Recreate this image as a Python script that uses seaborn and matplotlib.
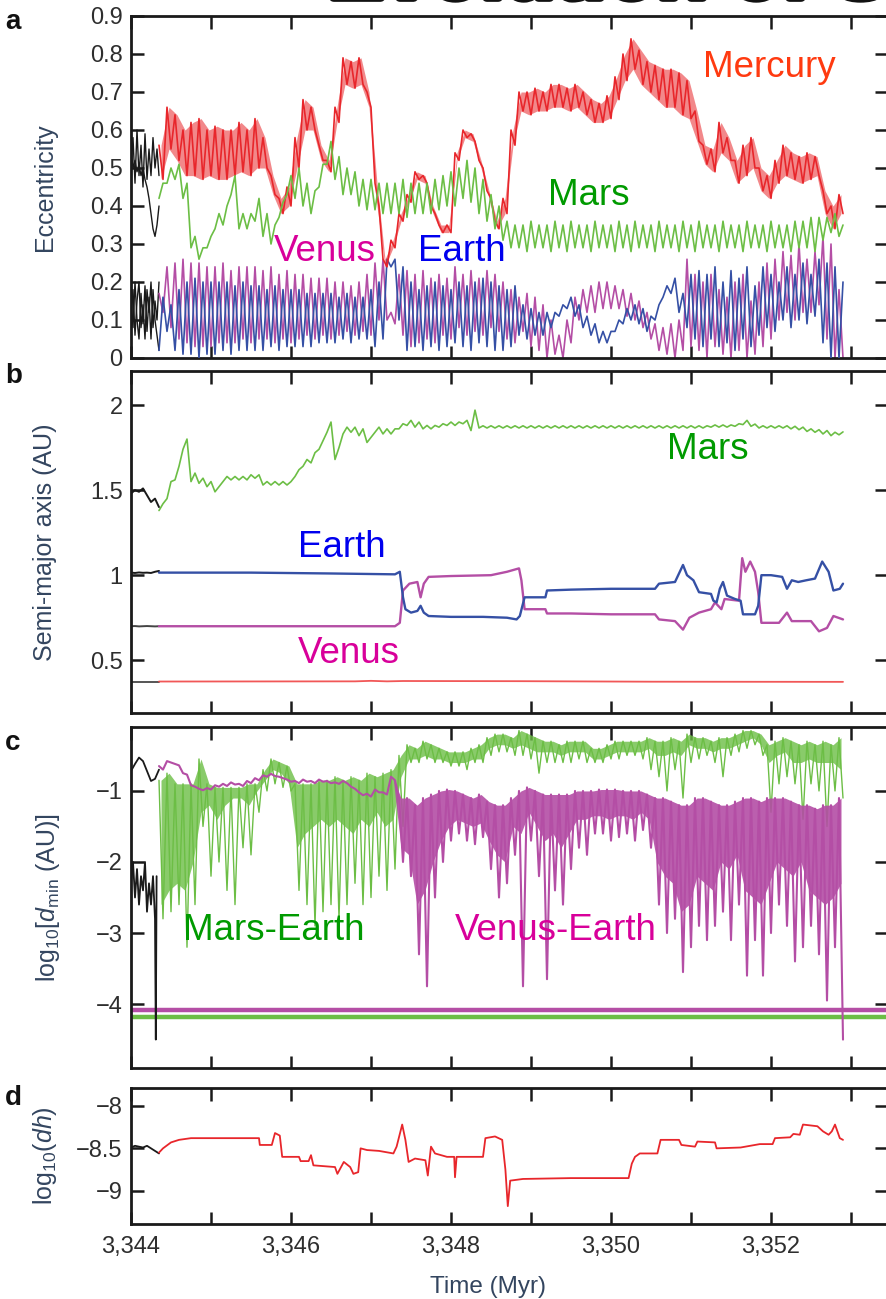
import numpy as np
import matplotlib
matplotlib.use("Agg")
import matplotlib.pyplot as plt
import matplotlib.patheffects as pe
from matplotlib.ticker import FixedLocator, FuncFormatter
import seaborn as sns

# ---------------- DATA ----------------
# common sampling grid of the coloured part: 3344.35 ... 3352.85, step 0.1 Myr
T0, DT, N = 3344.35, 0.1, 86

# panel a: eccentricity envelopes (low / high value in each 0.1 Myr bin)
mercury_e_lo = [0.47,0.55,0.52,0.48,0.48,0.47,0.48,0.47,0.47,0.48,
                0.49,0.48,0.50,0.50,0.43,0.38,0.40,0.50,0.60,0.60,
                0.52,0.49,0.62,0.72,0.71,0.72,0.66,0.40,0.24,0.29,
                0.36,0.41,0.47,0.46,0.38,0.33,0.33,0.52,0.58,0.57,
                0.50,0.42,0.34,0.38,0.56,0.65,0.64,0.65,0.65,0.66,
                0.66,0.65,0.66,0.64,0.62,0.62,0.63,0.68,0.73,0.76,
                0.72,0.70,0.68,0.66,0.66,0.64,0.63,0.57,0.51,0.49,
                0.54,0.52,0.46,0.48,0.50,0.44,0.42,0.46,0.48,0.47,
                0.46,0.47,0.48,0.38,0.34,0.38]
mercury_e_hi = [0.56,0.66,0.64,0.60,0.62,0.63,0.60,0.61,0.60,0.60,
                0.62,0.60,0.63,0.58,0.48,0.42,0.45,0.58,0.68,0.66,
                0.56,0.52,0.66,0.79,0.78,0.79,0.70,0.46,0.26,0.31,
                0.38,0.43,0.49,0.48,0.40,0.35,0.35,0.54,0.60,0.59,
                0.52,0.44,0.36,0.42,0.60,0.70,0.70,0.71,0.70,0.72,
                0.72,0.71,0.72,0.70,0.68,0.67,0.69,0.74,0.80,0.84,
                0.81,0.78,0.77,0.76,0.76,0.75,0.73,0.65,0.56,0.55,
                0.62,0.58,0.52,0.56,0.58,0.50,0.48,0.52,0.56,0.54,
                0.53,0.54,0.53,0.44,0.40,0.43]
mars_e_lo = [0.42,0.46,0.47,0.42,0.29,0.26,0.29,0.34,0.35,0.43,
             0.34,0.34,0.36,0.32,0.30,0.37,0.43,0.42,0.40,0.38,
             0.45,0.51,0.47,0.43,0.43,0.40,0.39,0.39,0.38,0.38,
             0.38,0.37,0.38,0.38,0.38,0.39,0.40,0.40,0.42,0.41,
             0.38,0.36,0.34,0.31,0.29,0.29,0.28,0.29,0.29,0.28,
             0.29,0.28,0.29,0.29,0.28,0.29,0.29,0.28,0.29,0.28,
             0.29,0.29,0.28,0.29,0.29,0.28,0.29,0.28,0.29,0.29,
             0.28,0.29,0.29,0.28,0.29,0.29,0.28,0.29,0.29,0.28,
             0.29,0.29,0.28,0.31,0.33,0.32]
mars_e_hi = [0.46,0.50,0.51,0.46,0.32,0.29,0.32,0.38,0.40,0.48,
             0.38,0.38,0.42,0.38,0.35,0.41,0.48,0.50,0.46,0.44,
             0.51,0.57,0.53,0.50,0.49,0.47,0.47,0.46,0.46,0.46,
             0.47,0.46,0.46,0.46,0.47,0.48,0.49,0.50,0.52,0.50,
             0.47,0.43,0.40,0.36,0.35,0.35,0.36,0.35,0.35,0.36,
             0.35,0.36,0.35,0.35,0.36,0.35,0.35,0.36,0.35,0.36,
             0.35,0.35,0.36,0.35,0.35,0.36,0.35,0.36,0.35,0.35,
             0.36,0.35,0.35,0.36,0.35,0.35,0.36,0.35,0.35,0.36,
             0.36,0.37,0.37,0.37,0.38,0.35]
venus_e_lo = [0.12,0.08,0.05,0.04,0.03,0.03,0.03,0.04,0.04,0.04,
              0.05,0.04,0.05,0.05,0.04,0.05,0.04,0.05,0.06,0.05,
              0.06,0.05,0.06,0.07,0.06,0.07,0.06,0.10,0.10,0.09,
              0.06,0.03,0.04,0.05,0.04,0.06,0.05,0.08,0.06,0.07,
              0.06,0.08,0.07,0.05,0.04,0.07,0.03,0.02,0.00,0.01,
              0.00,0.04,0.10,0.12,0.12,0.13,0.13,0.13,0.11,0.10,
              0.08,0.05,0.02,0.01,0.00,0.02,0.03,0.02,0.00,0.03,
              0.01,0.00,0.02,0.00,0.01,0.03,0.05,0.10,0.12,0.10,
              0.12,0.12,0.14,0.05,0.00,0.00]
venus_e_hi = [0.17,0.24,0.25,0.26,0.25,0.25,0.24,0.24,0.25,0.23,
              0.24,0.24,0.24,0.23,0.24,0.22,0.23,0.22,0.22,0.21,
              0.21,0.21,0.20,0.20,0.19,0.20,0.22,0.25,0.26,0.12,
              0.22,0.23,0.22,0.23,0.21,0.22,0.21,0.24,0.22,0.23,
              0.21,0.23,0.22,0.20,0.18,0.16,0.17,0.16,0.14,0.10,
              0.06,0.10,0.16,0.18,0.19,0.20,0.20,0.19,0.18,0.17,
              0.15,0.12,0.09,0.08,0.09,0.10,0.26,0.22,0.20,0.22,
              0.18,0.16,0.20,0.22,0.15,0.20,0.25,0.26,0.28,0.27,
              0.30,0.26,0.28,0.32,0.30,0.18]
earth_e_lo = [0.02,0.07,0.02,0.01,0.01,0.00,0.01,0.01,0.02,0.01,
              0.02,0.02,0.02,0.02,0.03,0.02,0.03,0.03,0.03,0.03,
              0.04,0.04,0.04,0.05,0.04,0.05,0.05,0.03,0.05,0.24,
              0.10,0.02,0.03,0.02,0.03,0.02,0.03,0.04,0.03,0.02,
              0.04,0.03,0.02,0.02,0.03,0.06,0.05,0.06,0.06,0.08,
              0.11,0.13,0.11,0.08,0.06,0.04,0.04,0.07,0.09,0.10,
              0.09,0.07,0.10,0.16,0.17,0.12,0.08,0.05,0.03,0.05,
              0.03,0.04,0.02,0.05,0.03,0.06,0.08,0.07,0.10,0.08,
              0.10,0.09,0.11,0.04,0.00,0.00]
earth_e_hi = [0.16,0.14,0.18,0.20,0.21,0.20,0.20,0.20,0.20,0.19,
              0.20,0.19,0.19,0.18,0.19,0.18,0.18,0.18,0.17,0.17,
              0.17,0.17,0.16,0.17,0.16,0.16,0.18,0.20,0.26,0.26,
              0.24,0.20,0.18,0.19,0.20,0.19,0.18,0.20,0.19,0.20,
              0.21,0.20,0.19,0.18,0.19,0.14,0.13,0.12,0.12,0.12,
              0.14,0.16,0.14,0.11,0.09,0.07,0.07,0.10,0.13,0.14,
              0.13,0.11,0.14,0.19,0.21,0.17,0.22,0.23,0.22,0.24,
              0.20,0.23,0.21,0.24,0.19,0.24,0.22,0.20,0.24,0.22,
              0.25,0.22,0.26,0.25,0.24,0.20]
# black early part of panel a (3344.00 - 3344.35, step 0.025)
black_mercury_e = [0.50,0.58,0.46,0.60,0.48,0.56,0.45,0.59,0.47,0.55,0.48,0.58,0.50,0.55,0.48]
black_mars_e = [0.55,0.50,0.52,0.49,0.51,0.48,0.50,0.47,0.45,0.42,0.38,0.34,0.32,0.35,0.40]
black_venus_e = [0.10,0.18,0.06,0.15,0.20,0.08,0.14,0.05,0.18,0.12,0.20,0.08,0.15,0.10,0.20]
black_earth_e = [0.15,0.08,0.20,0.10,0.05,0.17,0.09,0.19,0.07,0.16,0.05,0.18,0.10,0.06,0.02]

# panel b: semi-major axis
mars_a_lo = [1.38,1.45,1.56,1.74,1.55,1.54,1.52,1.49,1.55,1.56,
             1.56,1.56,1.57,1.53,1.53,1.53,1.53,1.58,1.64,1.66,
             1.74,1.84,1.68,1.83,1.84,1.82,1.78,1.84,1.83,1.83,
             1.86,1.88,1.87,1.86,1.86,1.87,1.88,1.88,1.89,1.85,
             1.865,1.865,1.865,1.865,1.865,1.865,1.865,1.865,1.865,1.865,
             1.865,1.865,1.865,1.865,1.865,1.865,1.865,1.865,1.865,1.865,
             1.865,1.865,1.865,1.865,1.865,1.865,1.865,1.865,1.865,1.870,
             1.870,1.870,1.875,1.885,1.875,1.865,1.865,1.865,1.865,1.860,
             1.855,1.845,1.840,1.830,1.820,1.825]
mars_a_hi = [1.42,1.55,1.64,1.80,1.60,1.57,1.55,1.52,1.58,1.58,
             1.58,1.59,1.59,1.55,1.55,1.55,1.55,1.62,1.68,1.72,
             1.79,1.90,1.75,1.87,1.87,1.86,1.81,1.87,1.86,1.86,
             1.89,1.91,1.90,1.88,1.88,1.89,1.90,1.90,1.91,1.97,
             1.878,1.878,1.878,1.878,1.878,1.878,1.878,1.878,1.878,1.878,
             1.878,1.878,1.878,1.878,1.878,1.878,1.878,1.878,1.878,1.878,
             1.878,1.878,1.878,1.878,1.878,1.878,1.878,1.878,1.878,1.883,
             1.883,1.883,1.890,1.910,1.888,1.878,1.878,1.878,1.878,1.875,
             1.870,1.860,1.855,1.850,1.840,1.842]
earth_a_t = [3344.35, 3345.50, 3346.50, 3347.30, 3347.36, 3347.40, 3347.43, 3347.50, 3347.58, 3347.62,
             3347.66, 3347.72, 3348.00, 3348.40, 3348.70, 3348.82, 3348.86, 3348.92, 3349.18, 3349.20,
             3349.50, 3350.00, 3350.55, 3350.60, 3350.80, 3350.90, 3350.95, 3351.03, 3351.10, 3351.25,
             3351.28, 3351.32, 3351.36, 3351.40, 3351.45, 3351.55, 3351.62, 3351.65, 3351.80, 3351.84,
             3351.88, 3352.00, 3352.14, 3352.20, 3352.26, 3352.34, 3352.44, 3352.55, 3352.64, 3352.72,
             3352.78, 3352.86, 3352.90]
earth_a_v = [1.015, 1.015, 1.010, 1.005, 1.020, 0.870, 0.800, 0.780, 0.790, 0.820,
             0.780, 0.760, 0.755, 0.755, 0.750, 0.740, 0.760, 0.870, 0.870, 0.910,
             0.915, 0.920, 0.920, 0.950, 0.960, 1.060, 1.000, 0.970, 0.900, 0.890,
             0.850, 0.840, 0.920, 0.960, 0.880, 0.860, 0.850, 0.770, 0.770, 0.820,
             1.000, 1.000, 0.990, 0.920, 0.970, 0.960, 0.970, 0.980, 1.080, 1.020,
             0.910, 0.920, 0.950]
venus_a_t = [3344.35, 3347.30, 3347.36, 3347.40, 3347.48, 3347.58, 3347.62, 3347.66, 3347.72, 3348.00,
             3348.50, 3348.70, 3348.85, 3348.88, 3348.92, 3349.18, 3349.20, 3349.50, 3350.00, 3350.55,
             3350.60, 3350.80, 3350.90, 3350.98, 3351.10, 3351.25, 3351.30, 3351.38, 3351.42, 3351.60,
             3351.64, 3351.68, 3351.74, 3351.80, 3351.84, 3351.88, 3352.10, 3352.20, 3352.26, 3352.50,
             3352.60, 3352.70, 3352.78, 3352.90]
venus_a_v = [0.700, 0.700, 0.720, 0.910, 0.950, 0.960, 0.870, 0.950, 0.990, 0.995,
             1.000, 1.020, 1.040, 0.970, 0.800, 0.800, 0.775, 0.775, 0.770, 0.770,
             0.740, 0.730, 0.680, 0.750, 0.780, 0.800, 0.840, 0.800, 0.860, 0.850,
             1.100, 1.020, 1.080, 1.020, 0.900, 0.720, 0.720, 0.780, 0.730, 0.730,
             0.670, 0.690, 0.760, 0.740]
mercury_a_t = [3344.35, 3346.80, 3347.00, 3347.20, 3347.40, 3348.90, 3350.50, 3352.90]
mercury_a_v = [0.375, 0.376, 0.379, 0.376, 0.378, 0.377, 0.374, 0.373]
# black early part of panel b (3344.00 - 3344.35, step 0.05)
black_mars_a = [1.48, 1.50, 1.49, 1.51, 1.47, 1.43, 1.45, 1.40]
black_earth_a = [1.015, 1.013, 1.016, 1.014, 1.015, 1.013, 1.020, 1.025]
black_venus_a = [0.700, 0.701, 0.699, 0.700, 0.701, 0.700, 0.699, 0.700]
black_mercury_a = [0.375, 0.375, 0.375, 0.375, 0.375, 0.375, 0.375, 0.375]

# panel c: log10 of minimum distance (top, dense-band bottom, spike tip)
me_hi = [-0.85,-0.75,-0.90,-0.90,-0.90,-0.55,-0.90,-0.95,-0.95,-0.95,
         -0.95,-0.90,-0.90,-0.70,-0.55,-0.60,-0.65,-0.90,-0.90,-0.90,
         -0.85,-0.85,-0.80,-0.85,-0.80,-0.85,-0.75,-0.80,-0.75,-0.70,
         -0.50,-0.35,-0.40,-0.30,-0.35,-0.40,-0.45,-0.45,-0.45,-0.40,
         -0.35,-0.25,-0.20,-0.20,-0.25,-0.15,-0.20,-0.25,-0.30,-0.30,
         -0.35,-0.30,-0.30,-0.30,-0.40,-0.40,-0.35,-0.30,-0.30,-0.30,
         -0.30,-0.25,-0.30,-0.30,-0.25,-0.30,-0.20,-0.25,-0.25,-0.30,
         -0.25,-0.25,-0.20,-0.15,-0.15,-0.20,-0.35,-0.30,-0.25,-0.30,
         -0.35,-0.30,-0.35,-0.30,-0.35,-0.25]
me_band = [-2.60,-2.40,-2.30,-2.40,-2.00,-1.30,-1.20,-1.40,-1.20,-1.10,
           -1.10,-1.20,-1.00,-0.85,-0.70,-0.75,-0.90,-1.80,-1.60,-1.50,
           -1.40,-1.50,-1.40,-1.50,-1.60,-1.40,-1.50,-1.30,-1.50,-1.40,
           -0.80,-0.55,-0.55,-0.50,-0.55,-0.55,-0.60,-0.60,-0.60,-0.55,
           -0.55,-0.40,-0.35,-0.35,-0.40,-0.35,-0.40,-0.45,-0.45,-0.45,
           -0.50,-0.45,-0.45,-0.45,-0.55,-0.55,-0.50,-0.45,-0.45,-0.45,
           -0.45,-0.40,-0.50,-0.50,-0.45,-0.50,-0.35,-0.40,-0.40,-0.45,
           -0.40,-0.40,-0.35,-0.30,-0.25,-0.35,-0.60,-0.50,-0.45,-0.60,
           -0.60,-0.55,-0.60,-0.60,-0.60,-0.70]
me_spike = [-2.80,-2.70,-2.60,-3.20,-2.60,-1.50,-2.20,-2.00,-2.40,-2.60,
            -1.80,-1.90,-1.30,-1.00,-0.90,-0.95,-1.00,-2.40,-2.60,-2.90,
            -2.70,-2.60,-2.80,-2.60,-2.30,-2.60,-2.50,-2.20,-2.40,-2.10,
            -1.50,-0.60,-0.60,-0.55,-0.60,-0.60,-0.65,-0.65,-0.70,-0.60,
            -0.60,-0.50,-0.45,-0.45,-0.50,-0.50,-0.55,-0.75,-0.60,-0.60,
            -0.60,-0.60,-0.55,-0.60,-0.60,-0.60,-0.55,-0.55,-0.50,-0.50,
            -0.55,-0.70,-0.80,-1.00,-0.70,-1.10,-0.60,-0.55,-0.50,-0.60,
            -0.80,-0.50,-0.45,-0.40,-0.35,-0.50,-1.30,-0.90,-0.80,-0.90,
            -1.40,-0.90,-1.00,-1.50,-1.00,-1.10]
ve_hi = [-0.65,-0.58,-0.62,-0.75,-0.92,-0.97,-0.96,-0.92,-0.90,-0.88,
         -0.90,-0.86,-0.82,-0.78,-0.76,-0.80,-0.84,-0.86,-0.84,-0.86,
         -0.84,-0.86,-0.88,-0.86,-0.94,-1.02,-1.04,-0.98,-1.02,-0.80,
         -1.10,-1.10,-1.20,-1.10,-1.05,-1.00,-0.98,-1.00,-1.05,-1.10,
         -1.05,-1.15,-1.20,-1.20,-1.10,-1.00,-0.95,-1.00,-1.05,-1.05,
         -1.05,-1.05,-1.00,-1.00,-1.00,-0.98,-0.98,-0.98,-1.00,-1.00,
         -1.00,-1.05,-1.10,-1.10,-1.15,-1.20,-1.20,-1.10,-1.10,-1.15,
         -1.20,-1.20,-1.15,-1.10,-1.10,-1.15,-1.10,-1.10,-1.10,-1.15,
         -1.20,-1.20,-1.25,-1.20,-1.20,-1.10]
ve_band = [-0.65,-0.58,-0.62,-0.75,-0.92,-0.97,-0.96,-0.92,-0.90,-0.88,
           -0.90,-0.86,-0.82,-0.78,-0.76,-0.80,-0.84,-0.86,-0.84,-0.86,
           -0.84,-0.86,-0.88,-0.86,-0.94,-1.02,-1.04,-0.98,-1.02,-0.80,
           -1.80,-1.90,-2.60,-2.40,-2.00,-1.70,-1.50,-1.40,-1.45,-1.50,
           -1.45,-1.70,-1.90,-2.00,-1.50,-1.60,-1.30,-1.50,-1.70,-1.60,
           -1.80,-1.60,-1.40,-1.40,-1.35,-1.35,-1.40,-1.35,-1.35,-1.40,
           -1.30,-1.40,-2.00,-2.20,-2.30,-2.70,-2.60,-2.20,-2.30,-2.40,
           -2.00,-2.10,-1.90,-2.40,-2.50,-2.60,-2.30,-2.00,-2.10,-2.20,
           -2.00,-2.40,-2.50,-2.60,-2.50,-2.30]
ve_spike = [-0.70,-0.60,-0.64,-0.77,-0.94,-0.99,-0.98,-0.94,-0.93,-0.91,
            -0.93,-0.89,-0.85,-0.80,-0.79,-0.82,-0.87,-0.89,-0.87,-0.89,
            -0.87,-0.89,-0.90,-0.89,-0.97,-1.06,-1.08,-1.02,-1.05,-0.85,
            -2.00,-2.20,-3.30,-3.75,-2.50,-2.00,-1.70,-1.60,-1.70,-1.75,
            -1.65,-2.10,-2.50,-2.30,-1.90,-3.75,-1.70,-2.20,-3.65,-2.40,
            -2.60,-2.10,-1.80,-1.90,-1.60,-1.60,-1.70,-1.65,-1.60,-1.70,
            -1.55,-1.80,-2.60,-3.00,-2.80,-3.55,-3.20,-2.90,-3.10,-2.90,
            -2.70,-3.10,-2.60,-3.60,-3.10,-3.60,-3.00,-2.60,-2.90,-3.40,
            -3.20,-2.90,-3.30,-3.95,-3.20,-4.50]
collision_venus_earth = -4.08
collision_mars_earth = -4.18
black_c_upper = [-0.72, -0.62, -0.53, -0.58, -0.72, -0.86, -0.83, -0.70]   # 3344.00-3344.35 step 0.05
black_c_lower = [-2.30, -2.00, -2.50, -2.10, -2.60, -2.20, -2.40, -2.00, -2.70, -2.30,
                 -2.60, -2.20, -2.80, -4.50, -2.20]                          # 3344.00-3344.30 step 0.025, then dip
black_c_lower_extra_t = [3344.31, 3344.32]

# panel d: log10(dh)
dh_t = [3344.35, 3344.40, 3344.50, 3344.60, 3344.75, 3345.60, 3345.61, 3345.76, 3345.80, 3345.86,
        3345.89, 3346.10, 3346.12, 3346.22, 3346.25, 3346.28, 3346.55, 3346.58, 3346.66, 3346.74,
        3346.78, 3346.84, 3346.87, 3346.95, 3347.10, 3347.28, 3347.32, 3347.39, 3347.43, 3347.47,
        3347.55, 3347.68, 3347.71, 3347.75, 3347.80, 3347.95, 3348.04, 3348.05, 3348.07, 3348.40,
        3348.43, 3348.55, 3348.64, 3348.68, 3348.71, 3348.74, 3348.90, 3349.50, 3350.22, 3350.26,
        3350.30, 3350.36, 3350.58, 3350.62, 3350.85, 3350.88, 3351.05, 3351.08, 3351.30, 3351.32,
        3351.62, 3351.86, 3352.02, 3352.05, 3352.24, 3352.28, 3352.36, 3352.40, 3352.58, 3352.65,
        3352.72, 3352.76, 3352.80, 3352.86, 3352.90]
dh_v = [-8.55, -8.50, -8.43, -8.40, -8.38, -8.38, -8.46, -8.46, -8.32, -8.35,
        -8.60, -8.60, -8.65, -8.65, -8.58, -8.70, -8.72, -8.80, -8.66, -8.72,
        -8.80, -8.78, -8.50, -8.52, -8.53, -8.56, -8.48, -8.22, -8.40, -8.66,
        -8.62, -8.64, -8.82, -8.48, -8.56, -8.60, -8.60, -8.84, -8.60, -8.60,
        -8.38, -8.36, -8.40, -8.75, -9.18, -8.88, -8.86, -8.85, -8.85, -8.68,
        -8.60, -8.56, -8.56, -8.40, -8.40, -8.46, -8.48, -8.42, -8.43, -8.50,
        -8.49, -8.45, -8.45, -8.38, -8.37, -8.33, -8.34, -8.22, -8.24, -8.30,
        -8.34, -8.30, -8.22, -8.38, -8.40]
black_dh = [-8.49, -8.47, -8.48, -8.49, -8.47, -8.50, -8.53, -8.56]       # 3344.00-3344.35 step 0.05

# ticks
ecc_ticks = [0, 0.1, 0.2, 0.3, 0.4, 0.5, 0.6, 0.7, 0.8, 0.9]
sma_ticks = [0.5, 1, 1.5, 2]
dmin_ticks = [-4, -3, -2, -1]
dh_ticks = [-9, -8.5, -8]
time_ticks = [3344, 3345, 3346, 3347, 3348, 3349, 3350, 3351, 3352, 3353]

# ---------------- STYLE ----------------
sns.set_theme(style="ticks")
plt.rcParams['font.family'] = ['Liberation Sans', 'DejaVu Sans']
plt.rcParams['mathtext.fontset'] = 'custom'
plt.rcParams['mathtext.rm'] = 'Liberation Sans'
plt.rcParams['mathtext.it'] = 'Liberation Sans:italic'
plt.rcParams['axes.unicode_minus'] = True

C_MERC = '#e8262b'
C_MARS = '#6cbe45'
C_VEN = '#b44ea5'
C_EAR = '#3550a5'
C_BLK = '#1a1a1a'
LBL_COL = '#33455f'
TICK_COL = '#2e2e2e'

T = np.round(T0 + DT * np.arange(N), 3)
HALF = DT / 2


def zigzag(t, first, second):
    tt = np.empty(2 * len(t))
    vv = np.empty(2 * len(t))
    tt[0::2] = t
    tt[1::2] = t + HALF
    vv[0::2] = first
    vv[1::2] = second
    return tt, vv


def line(ax, x, y, color, lw=1.1, z=2, alpha=1.0):
    sns.lineplot(x=np.asarray(x, float), y=np.asarray(y, float), ax=ax, color=color,
                 lw=lw, estimator=None, sort=False, legend=False, zorder=z, alpha=alpha)


fig = plt.figure(figsize=(8.87, 12.99), dpi=100)
FW, FH = 887.0, 1299.0
L = 131 / FW
W = 756.5 / FW
XMAX = 3344 + 756.5 / 80
ax_a = fig.add_axes([L, 1 - 358 / FH, W, 342 / FH])
ax_b = fig.add_axes([L, 1 - 713 / FH, W, 342 / FH])
ax_c = fig.add_axes([L, 1 - 1068 / FH, W, 341 / FH])
ax_d = fig.add_axes([L, 1 - 1224 / FH, W, 136 / FH])

fmt_num = FuncFormatter(lambda v, _: (f"{v:g}").replace('-', '\u2212'))

for ax in (ax_a, ax_b, ax_c, ax_d):
    ax.set_xlim(3344, XMAX)
    ax.xaxis.set_major_locator(FixedLocator(time_ticks))
    ax.tick_params(direction='in', length=9, width=1.8, top=True, right=True,
                   labelsize=17, labelcolor=TICK_COL, color='#1a1a1a', pad=6)
    for s in ax.spines.values():
        s.set_linewidth(2)
        s.set_color('#1a1a1a')
    ax.yaxis.set_major_formatter(fmt_num)
    if ax is not ax_d:
        ax.tick_params(labelbottom=False)

# ---------------- panel a ----------------
tb = np.round(3344.0 + 0.025 * np.arange(15), 3)
line(ax_a, tb, black_mercury_e, C_BLK, lw=1.0)
line(ax_a, tb, black_mars_e, C_BLK, lw=1.0)
line(ax_a, tb, black_venus_e, C_BLK, lw=1.0)
line(ax_a, tb, black_earth_e, C_BLK, lw=1.0)
tz, vz = zigzag(T, venus_e_hi, venus_e_lo)
line(ax_a, tz, vz, C_VEN, lw=1.2, z=2)
tz, vz = zigzag(T, earth_e_lo, earth_e_hi)
line(ax_a, tz, vz, C_EAR, lw=1.2, z=3)
ax_a.fill_between(T + HALF / 2, mercury_e_lo, mercury_e_hi, color=C_MERC, lw=0, alpha=0.55, zorder=3)
tz, vz = zigzag(T, mercury_e_hi, mercury_e_lo)
line(ax_a, tz, vz, C_MERC, lw=1.2, z=3)
tz, vz = zigzag(T, mars_e_lo, mars_e_hi)
line(ax_a, tz, vz, C_MARS, lw=1.2, z=4)
ax_a.set_ylim(0, 0.9)
ax_a.yaxis.set_major_locator(FixedLocator(ecc_ticks))
ax_a.set_ylabel('Eccentricity', fontsize=18, color=LBL_COL, va='center')
ax_a.yaxis.set_label_coords(-0.114, 0.5)
ax_a.text(3351.15, 0.765, 'Mercury', fontsize=26.5, color='#ff3a10', va='center', ha='left')
ax_a.text(3349.21, 0.428, 'Mars', fontsize=26.5, color='#009a00', va='center', ha='left')
ax_a.text(3345.78, 0.281, 'Venus', fontsize=26.5, color='#d8009a', va='center', ha='left', zorder=6)
ax_a.text(3347.59, 0.281, 'Earth', fontsize=26.5, color='#0000ee', va='center', ha='left', zorder=6)

# ---------------- panel b ----------------
tb8 = np.round(3344.0 + 0.05 * np.arange(8), 3)
line(ax_b, tb8, black_mars_a, C_BLK, lw=1.4)
line(ax_b, tb8, black_earth_a, C_BLK, lw=1.4)
line(ax_b, tb8, black_venus_a, '#444444', lw=1.4)
line(ax_b, tb8, black_mercury_a, '#555555', lw=1.4)
line(ax_b, mercury_a_t, mercury_a_v, '#f04545', lw=1.3, alpha=0.9)
line(ax_b, venus_a_t, venus_a_v, C_VEN, lw=1.7, z=3)
line(ax_b, earth_a_t, earth_a_v, C_EAR, lw=1.7, z=3)
tz, vz = zigzag(T, mars_a_lo, mars_a_hi)
line(ax_b, tz, vz, C_MARS, lw=1.2, z=4)
ax_b.set_ylim(0.19, 2.2)
ax_b.yaxis.set_major_locator(FixedLocator(sma_ticks))
ax_b.set_ylabel('Semi-major axis (AU)', fontsize=18, color=LBL_COL, va='center')
ax_b.yaxis.set_label_coords(-0.114, 0.5)
ax_b.text(3350.7, 1.74, 'Mars', fontsize=26.5, color='#009a00', va='center', ha='left')
ax_b.text(3346.09, 1.165, 'Earth', fontsize=26.5, color='#0000ee', va='center', ha='left')
ax_b.text(3346.09, 0.541, 'Venus', fontsize=26.5, color='#d8009a', va='center', ha='left')

# ---------------- panel c ----------------
ax_c.axhline(collision_venus_earth, color=C_VEN, lw=3.2, zorder=1)
ax_c.axhline(collision_mars_earth, color=C_MARS, lw=3.2, zorder=1)
line(ax_c, tb8, black_c_upper, C_BLK, lw=1.3)
tlow = np.concatenate([np.round(3344.0 + 0.025 * np.arange(13), 3), black_c_lower_extra_t])
line(ax_c, tlow, black_c_lower, C_BLK, lw=1.3)
ax_c.fill_between(T + HALF / 2, me_band, me_hi, color=C_MARS, lw=0, alpha=0.8, zorder=2)
tz, vz = zigzag(T, me_hi, me_spike)
line(ax_c, tz, vz, C_MARS, lw=1.0, z=2)
ax_c.fill_between(T + HALF / 2, ve_band, ve_hi, color=C_VEN, lw=0, alpha=0.9, zorder=3)
tz, vz = zigzag(T, ve_hi, ve_spike)
line(ax_c, tz, vz, C_VEN, lw=1.5, z=3)
ax_c.set_ylim(-4.9, -0.1)
ax_c.yaxis.set_major_locator(FixedLocator(dmin_ticks))
ax_c.set_ylabel(r'log$_{10}$[$d_{\mathrm{min}}$ (AU)]', fontsize=18, color=LBL_COL, va='center')
ax_c.yaxis.set_label_coords(-0.11, 0.5)
ax_c.text(3344.65, -2.96, 'Mars-Earth', fontsize=26.5, color='#009a00', va='center', ha='left', zorder=6)
ax_c.text(3348.05, -2.96, 'Venus-Earth', fontsize=26.5, color='#d8009a', va='center', ha='left', zorder=6)

# ---------------- panel d ----------------
line(ax_d, tb8, black_dh, C_BLK, lw=1.3)
line(ax_d, dh_t, dh_v, C_MERC, lw=1.3)
ax_d.set_ylim(-9.39, -7.79)
ax_d.yaxis.set_major_locator(FixedLocator(dh_ticks))
ax_d.set_ylabel(r'log$_{10}$($dh$)', fontsize=18, color=LBL_COL, va='center')
ax_d.yaxis.set_label_coords(-0.114, 0.5)
ax_d.xaxis.set_major_formatter(FuncFormatter(
    lambda v, _: f"{int(round(v)):,}" if int(round(v)) % 2 == 0 and v < 3353 else ''))
ax_d.tick_params(axis='x', pad=9)
ax_d.set_xlabel('Time (Myr)', fontsize=17.5, color=LBL_COL, va='center')
ax_d.xaxis.set_label_coords(0.472, -0.463)

# panel letters
for letter, ypix in (('a', 22), ('b', 376), ('c', 743), ('d', 1098)):
    fig.text(5 / FW, 1 - ypix / FH, letter, fontsize=20, fontweight='bold',
             color='#111111', va='center', ha='left')

# clipped slide header above the figure (only its lower edge is visible)
fig.text(0.37, 1 + 3 / FH, 'Evolution of Sol', fontsize=60, fontweight='bold',
         color='#f5e800', va='baseline', ha='left',
         path_effects=[pe.withStroke(linewidth=7, foreground='#111111')])

fig.savefig('out.png', dpi=100)
